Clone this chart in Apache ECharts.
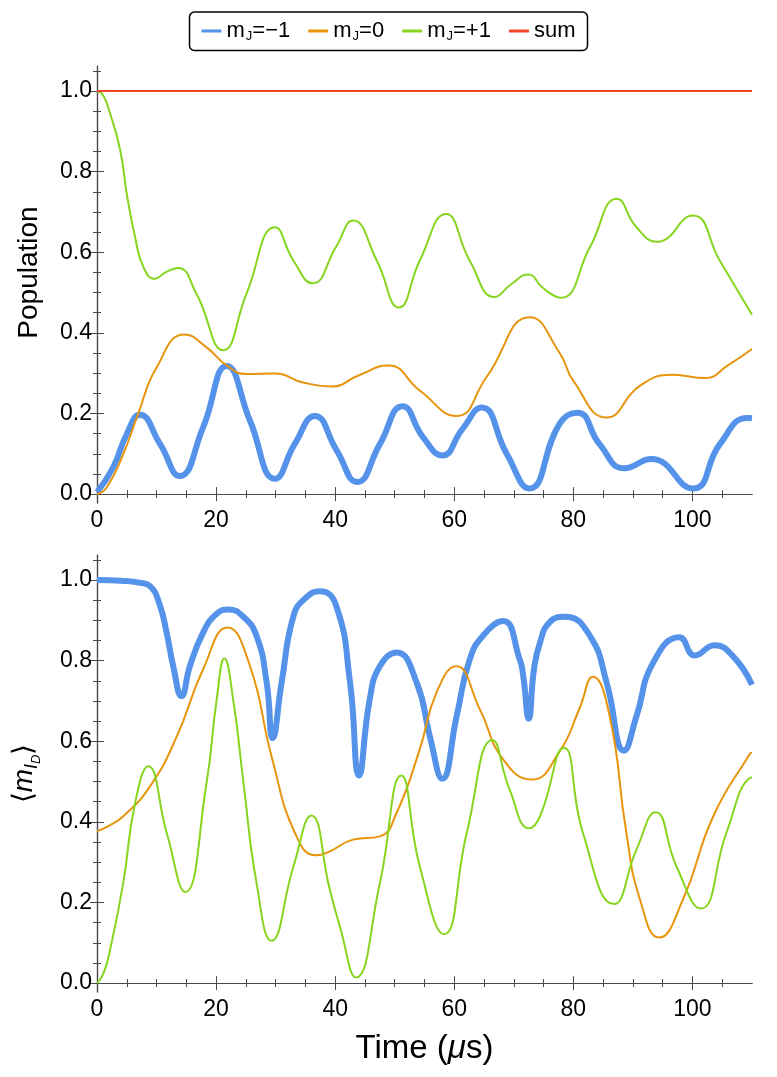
<!DOCTYPE html>
<html>
<head>
<meta charset="utf-8">
<script src="https://cdn.jsdelivr.net/npm/echarts@6/dist/echarts.min.js"></script>
<style>
html, body { margin: 0; padding: 0; background: #fff; }
#main { width: 777px; height: 1077px; }
</style>
</head>
<body>
<div id="main"></div>
<script>
// tick values
var xMajor = [0, 20, 40, 60, 80, 100];
var xMinor = [5, 10, 15, 25, 30, 35, 45, 50, 55, 65, 70, 75, 85, 90, 95, 105];
var yMajor = [0, 0.2, 0.4, 0.6, 0.8, 1.0];
var yMinor = [0.05, 0.1, 0.15, 0.25, 0.3, 0.35, 0.45, 0.5, 0.55, 0.65, 0.7, 0.75, 0.85, 0.9, 0.95, 1.05];

// top panel: populations  [time (us), value]
var popMinus1 = [[0,0.005],[2.7,0.066],[5.0,0.149],[7.2,0.197],[10.6,0.124],[13.9,0.045],[17.8,0.165],[21.8,0.318],
	[25.7,0.182],[29.9,0.038],[33.2,0.124],[36.6,0.194],[40.2,0.11],[43.7,0.03],[47.5,0.124],[51.3,0.218],[54.8,0.14],
	[58.0,0.096],[61.3,0.16],[64.6,0.215],[68.8,0.1],[72.6,0.014],[77.7,0.175],[80.7,0.202],[84.4,0.124],[88.6,0.064],
	[93.1,0.087],[100.1,0.014],[104.6,0.124],[109.2,0.189],[110,0.188]];
var pop0 = [[0,0],[1.6,0.016],[4.4,0.099],[6.9,0.199],[10.0,0.314],[14.7,0.396],[18.4,0.364],[21.8,0.319],[25.1,0.298],
	[29.9,0.299],[34.6,0.277],[39.4,0.267],[44,0.295],[48.9,0.319],[54.2,0.257],[60.4,0.194],[65.4,0.29],[72.7,0.439],
	[77.7,0.35],[80.0,0.281],[85.6,0.19],[91.2,0.269],[96.7,0.296],[102.1,0.288],[106,0.32],[110,0.36]];
var popPlus1 = [[0,1.0],[1,0.99],[2.2,0.944],[3.9,0.853],[5.0,0.745],[6.4,0.637],[7.8,0.563],[9.7,0.534],[11.5,0.55],
	[13.6,0.561],[16.7,0.497],[21.2,0.357],[25.1,0.497],[29.9,0.662],[33.0,0.579],[36.2,0.523],[40.2,0.615],[43.0,0.679],
	[47.0,0.579],[50.7,0.463],[54.2,0.579],[58.6,0.695],[62.6,0.579],[66.8,0.489],[69.5,0.52],[72.4,0.545],[75,0.51],
	[77.9,0.487],[82.8,0.613],[87.3,0.733],[90.6,0.662],[94.1,0.626],[100.0,0.691],[104.6,0.579],[110,0.445]];
var popSum = [[0,1],[110,1]];

// bottom panel: <m_ID>
var mMinus1 = [[0,1.0],[4,0.998],[7.2,0.993],[8.9,0.985],[10.5,0.94],[11.7,0.869],[12.8,0.786],[14.2,0.712],[15.6,0.786],
	[17.8,0.869],[20,0.915],[22.05,0.927],[24.5,0.91],[26.8,0.861],[28.5,0.745],[29.5,0.608],[31.0,0.745],[33.0,0.911],
	[35,0.955],[37.4,0.972],[40.2,0.935],[42.5,0.745],[44.0,0.515],[45.8,0.704],[47.5,0.786],[50.3,0.82],[53.7,0.745],
	[55.9,0.612],[58.0,0.507],[60.4,0.662],[62.6,0.803],[65,0.865],[68.2,0.898],[71.0,0.803],[71.6,0.76],[72.5,0.656],
	[73.4,0.78],[74.4,0.845],[76,0.895],[78.6,0.909],[82.8,0.861],[85.6,0.745],[88.5,0.577],[90.6,0.662],[93.4,0.795],
	[97.8,0.858],[100.4,0.813],[103.7,0.838],[106.8,0.811],[110,0.74]];
var m0 = [[0,0.377],[2,0.39],[4.4,0.414],[8.9,0.488],[13.4,0.612],[17.8,0.778],[21.9,0.882],[25.7,0.786],[29.3,0.563],
	[33.5,0.364],[36.9,0.317],[39.1,0.327],[43.0,0.356],[47.5,0.364],[50.3,0.422],[54.2,0.58],[57,0.72],[60.3,0.786],
	[64.3,0.679],[68.2,0.555],[73.0,0.505],[77.7,0.575],[81,0.68],[83.3,0.76],[86.1,0.662],[88.9,0.373],[91.2,0.207],
	[94.4,0.113],[98.4,0.207],[103.5,0.414],[109.6,0.568],[110,0.572]];
var mPlus1 = [[0,0],[1.1,0.025],[2.2,0.083],[4.4,0.248],[6.4,0.447],[8.6,0.538],[11.7,0.373],[14.8,0.226],[18.4,0.497],
	[20.1,0.704],[21.4,0.805],[22.9,0.7],[24.6,0.497],[26.8,0.248],[29.3,0.105],[33.0,0.29],[36.0,0.416],[39.1,0.232],
	[40.8,0.14],[43.5,0.014],[47.5,0.248],[51.1,0.515],[54.2,0.29],[58.3,0.121],[62.1,0.373],[66.4,0.603],[69.3,0.48],
	[72.6,0.384],[74.4,0.414],[78.4,0.584],[81.6,0.373],[86.8,0.196],[90.6,0.331],[93.8,0.424],[97.3,0.29],[101.4,0.185],
	[105.7,0.373],[109.6,0.509],[110,0.51]];

var cBlue = '#5592ea', cOrange = '#e6950c', cGreen = '#86d51e', cRed = '#f2452a';
var frameColor = '#4a4a4a';
var font = 'Liberation Sans, Arial, sans-serif';

var chart = echarts.init(document.getElementById('main'));

function xAxes(g, isBottomPlot) {
	var base = { type: 'value', gridIndex: g, min: 0, max: 110, splitLine: { show: false } };
	var list = [];
	// bottom major, labels
	list.push(Object.assign({}, base, {
		position: 'bottom',
		axisLine: { show: true, lineStyle: { color: frameColor, width: 1.2 } },
		axisTick: { show: true, inside: true, length: 7, customValues: xMajor, lineStyle: { color: frameColor } },
		axisLabel: { show: true, customValues: xMajor, margin: 6, fontSize: 23, color: '#000', fontFamily: font },
		name: isBottomPlot ? '{t|Time (}{i|μ}{t|s)}' : '',
		nameLocation: 'middle',
		nameGap: 40,
		nameTextStyle: {
			rich: {
				t: { fontSize: 33, fontFamily: font, color: '#000' },
				i: { fontSize: 33, fontFamily: font, fontStyle: 'italic', color: '#000' }
			}
		}
	}));
	// bottom minor
	list.push(Object.assign({}, base, {
		position: 'bottom',
		axisLine: { show: false },
		axisTick: { show: true, inside: true, length: 4, customValues: xMinor, lineStyle: { color: frameColor } },
		axisLabel: { show: false }
	}));
	// top major
	list.push(Object.assign({}, base, {
		position: 'top',
		axisLine: { show: true, lineStyle: { color: frameColor, width: 1.2 } },
		axisTick: { show: true, inside: true, length: 7, customValues: xMajor, lineStyle: { color: frameColor } },
		axisLabel: { show: false }
	}));
	// top minor
	list.push(Object.assign({}, base, {
		position: 'top',
		axisLine: { show: false },
		axisTick: { show: true, inside: true, length: 4, customValues: xMinor, lineStyle: { color: frameColor } },
		axisLabel: { show: false }
	}));
	return list;
}

function yAxes(g, name, nameRich, namePad) {
	var base = { type: 'value', gridIndex: g, min: -0.022, max: 1.062, splitLine: { show: false } };
	var list = [];
	list.push(Object.assign({}, base, {
		position: 'left',
		axisLine: { show: true, lineStyle: { color: frameColor, width: 1.2 } },
		axisTick: { show: true, inside: true, length: 7, customValues: yMajor, lineStyle: { color: frameColor } },
		axisLabel: {
			show: true, customValues: yMajor, margin: 5, fontSize: 23, color: '#000', fontFamily: font,
			formatter: function (v) { return v.toFixed(1); }
		},
		name: name,
		nameLocation: 'middle',
		nameRotate: 90,
		nameGap: 54,
		nameTextStyle: { fontSize: 28, fontFamily: font, color: '#000', rich: nameRich, padding: namePad }
	}));
	list.push(Object.assign({}, base, {
		position: 'left',
		axisLine: { show: false },
		axisTick: { show: true, inside: true, length: 4, customValues: yMinor, lineStyle: { color: frameColor } },
		axisLabel: { show: false }
	}));
	list.push(Object.assign({}, base, {
		position: 'right',
		axisLine: { show: true, lineStyle: { color: frameColor, width: 1.2 } },
		axisTick: { show: true, inside: true, length: 7, customValues: yMajor, lineStyle: { color: frameColor } },
		axisLabel: { show: false }
	}));
	list.push(Object.assign({}, base, {
		position: 'right',
		axisLine: { show: false },
		axisTick: { show: true, inside: true, length: 4, customValues: yMinor, lineStyle: { color: frameColor } },
		axisLabel: { show: false }
	}));
	return list;
}

var mRich = {
	b: { fontSize: 28, fontFamily: font, color: '#000' },
	m: { fontSize: 28, fontFamily: font, fontStyle: 'italic', color: '#000' },
	s: { fontSize: 18, fontFamily: font, fontStyle: 'italic', color: '#000', padding: [14, 0, 0, 0] },
	ss: { fontSize: 13, fontFamily: font, fontStyle: 'italic', color: '#000', padding: [24, 0, 0, 0] }
};

function mkLine(name, data, color, width, xi, yi, z) {
	return {
		name: name, type: 'line', data: data, xAxisIndex: xi, yAxisIndex: yi,
		smooth: 0.5, showSymbol: false, symbol: 'none', z: z,
		color: color,
		lineStyle: { color: color, width: width },
		emphasis: { disabled: true }
	};
}

var option = {
	animation: false,
	backgroundColor: '#fff',
	legend: {
		top: 12,
		left: 'center',
		data: ['mJ=-1', 'mJ=0', 'mJ=+1', 'sum'],
		icon: 'rect',
		itemWidth: 20,
		itemHeight: 3,
		itemGap: 18,
		padding: [8, 12, 8, 12],
		borderColor: '#000',
		borderWidth: 1.5,
		borderRadius: 5,
		formatter: function (name) {
			if (name == 'sum') return '{a|sum}';
			return '{a|m}{s|J}{a|' + name.slice(2).replace('-', '−') + '}';
		},
		textStyle: {
			rich: {
				a: { fontSize: 22, fontFamily: font, color: '#000' },
				s: { fontSize: 13, fontFamily: font, color: '#000', padding: [10, 0, 0, 1] }
			}
		}
	},
	grid: [
		{ left: 97, right: 25, top: 66, height: 437 },
		{ left: 97, right: 25, top: 555, height: 437 }
	],
	xAxis: xAxes(0, false).concat(xAxes(1, true)),
	yAxis: yAxes(0, 'Population', null, [0, 0, 0, 24]).concat(yAxes(1, '{b|⟨}{m|m}{s|I}{ss|D}{b|⟩}', mRich, 0)),
	series: [
		mkLine('mJ=-1', popMinus1, cBlue, 6, 0, 0, 2),
		mkLine('mJ=0', pop0, cOrange, 2, 0, 0, 3),
		mkLine('mJ=+1', popPlus1, cGreen, 2, 0, 0, 4),
		mkLine('sum', popSum, cRed, 2.2, 0, 0, 5),
		mkLine('mJ=-1', mMinus1, cBlue, 6, 4, 4, 2),
		mkLine('mJ=0', m0, cOrange, 2, 4, 4, 3),
		mkLine('mJ=+1', mPlus1, cGreen, 2, 4, 4, 4)
	]
};
chart.setOption(option);
</script>
</body>
</html>
